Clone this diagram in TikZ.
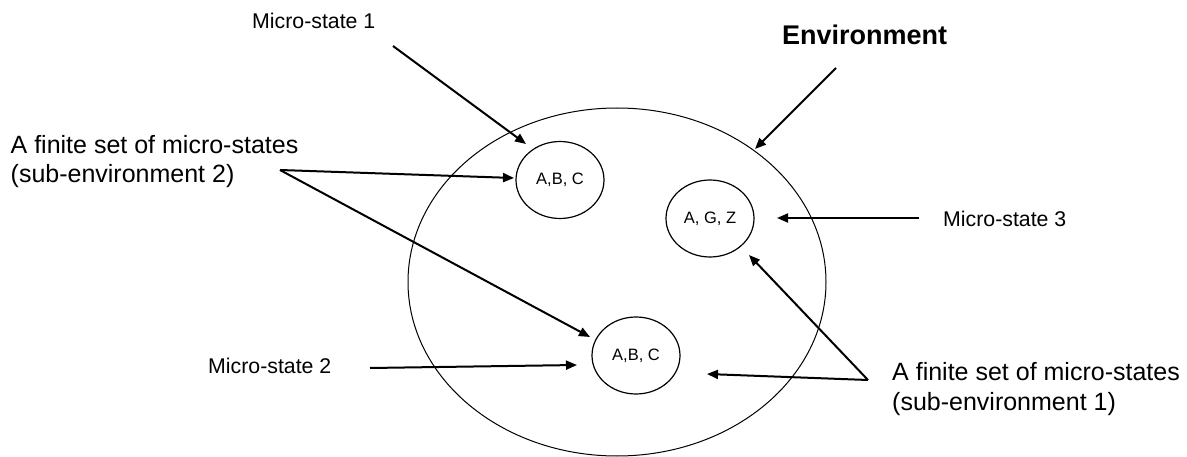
\documentclass[tikz,border=0pt]{standalone}
\usepackage{fontspec}
\setmainfont{Liberation Sans}
\usetikzlibrary{shapes.geometric,arrows.meta}
\begin{document}
\begin{tikzpicture}[x=1pt,y=-1pt,
  smalllbl/.style={anchor=base west,inner sep=0pt,font=\fontsize{21.3}{25}\selectfont},
  biglbl/.style={anchor=base west,inner sep=0pt,align=left,font=\fontsize{25}{29}\selectfont},
  state/.style={draw,ellipse,line width=1.2pt,minimum width=88pt,minimum height=77pt,inner sep=0pt,font=\fontsize{16.5}{19}\selectfont},
  envshape/.style={draw,ellipse,line width=1pt,minimum width=418pt,minimum height=348pt,inner sep=0pt},
  arr/.style={line width=2pt,-{Triangle[length=11pt,width=9pt]}}
]
\useasboundingbox (0,0) rectangle (1187,457);
% big environment ellipse
\node[envshape] (env) at (617,282) {};
% micro-state ellipses
\node[state] (s1) at (560,180) {A,B, C};
\node[state] (s3) at (710,218.5) {A, G, Z};
\node[state] (s2) at (636,355.5) {A,B, C};
% labels
\node[smalllbl] (m1) at (252,28.5) {Micro-state 1};
\node[smalllbl] (m2) at (208,373) {Micro-state 2};
\node[smalllbl] (m3) at (943,227) {Micro-state 3};
\node[anchor=base west,inner sep=0pt,font=\bfseries\fontsize{27}{31}\selectfont] (envlbl) at (782,45) {Environment};
\node[biglbl] (f2a) at (10.5,154) {A finite set of micro-states};
\node[biglbl] (f2b) at (10.5,183) {(sub-environment 2)};
\node[biglbl] (f1a) at (892,380.5) {A finite set of micro-states};
\node[biglbl] (f1b) at (892,410) {(sub-environment 1)};
% arrow end points
\coordinate (m1s) at (393,46);
\coordinate (m1t) at (526,144);
\coordinate (ens) at (836,68);
\coordinate (ent) at (755,149);
\coordinate (f2s) at (280,170);
\coordinate (f2t1) at (514,178);
\coordinate (f2t2) at (590,337);
\coordinate (m3s) at (919,218);
\coordinate (m3t) at (777,218);
\coordinate (m2s) at (370,368);
\coordinate (m2t) at (577,365);
\coordinate (f1s) at (868,380);
\coordinate (f1t1) at (749,255);
\coordinate (f1t2) at (707,374);
% arrows
\draw[arr] (m1s) -- (m1t);
\draw[arr] (ens) -- (ent);
\draw[arr] (f2s) -- (f2t1);
\draw[arr] (f2s) -- (f2t2);
\draw[arr] (m3s) -- (m3t);
\draw[arr] (m2s) -- (m2t);
\draw[arr] (f1s) -- (f1t1);
\draw[arr] (f1s) -- (f1t2);
\end{tikzpicture}
\end{document}
